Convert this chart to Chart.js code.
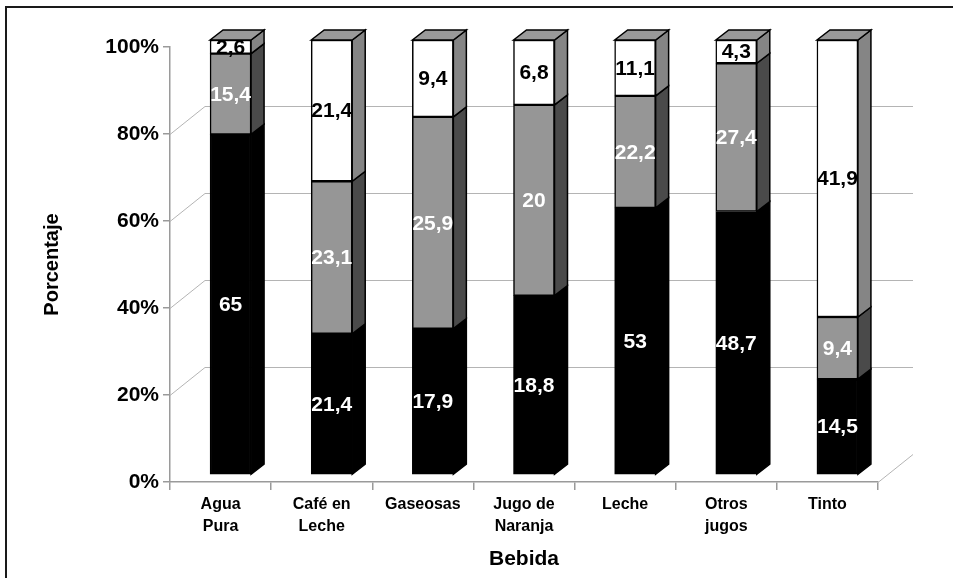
<!DOCTYPE html>
<html>
<head>
<meta charset="utf-8">
<script src="https://cdn.jsdelivr.net/npm/chart.js@4.4.1/dist/chart.umd.min.js"></script>
<style>
  html, body { margin: 0; padding: 0; background: #ffffff; }
  #wrap { width: 953px; height: 578px; }
</style>
</head>
<body>
<div id="wrap"><canvas id="c" width="953" height="578"></canvas></div>
<script>
// Beverages (x categories) and the three stacked series
const categories = [['Agua', 'Pura'], ['Café en', 'Leche'], ['Gaseosas'], ['Jugo de', 'Naranja'], ['Leche'], ['Otros', 'jugos'], ['Tinto']];
const serieNegra  = [65, 21.4, 17.9, 18.8, 53, 48.7, 14.5];
const serieGris   = [15.4, 23.1, 25.9, 20, 22.2, 27.4, 9.4];
const serieBlanca = [2.6, 21.4, 9.4, 6.8, 11.1, 4.3, 41.9];
const yTickValues = [0, 20, 40, 60, 80, 100];

// 100% stacking: each column is scaled to its own total
const totals = categories.map((_, i) => serieNegra[i] + serieGris[i] + serieBlanca[i]);
const toPct = arr => arr.map((v, i) => v / totals[i] * 100);

const FONT = "'Liberation Sans', Arial, sans-serif";
const BAR_DX = 13, BAR_DY = 10;     // depth of each 3D column
const SHIFT_X = 10, SHIFT_Y = -7;   // column plane sits behind the front axis
const WALL_DX = 35, WALL_DY = 28;   // back wall offset
const sideColors  = ['#000000', '#4a4a4a', '#858585'];
const labelColors = ['#ffffff', '#ffffff', '#000000'];
const rawSeries = [serieNegra, serieGris, serieBlanca];

const columns3d = {
  id: 'columns3d',
  beforeDatasetsDraw(chart) {
    const { ctx, chartArea: a, scales: { y } } = chart;
    ctx.save();
    ctx.strokeStyle = '#b4b4b4';
    ctx.lineWidth = 1;
    ctx.beginPath();
    y.ticks.forEach(t => {
      if (t.value <= 0 || t.value >= 100) return;
      const py = Math.round(y.getPixelForValue(t.value)) + 0.5;
      ctx.moveTo(a.left, py);
      ctx.lineTo(a.left + WALL_DX, py - WALL_DY);
      ctx.lineTo(a.right + WALL_DX, py - WALL_DY);
    });
    const pb = Math.round(a.bottom) + 0.5;
    ctx.moveTo(a.right, pb);
    ctx.lineTo(a.right + WALL_DX, pb - WALL_DY);
    ctx.stroke();
    ctx.restore();
    ctx.save();
    ctx.translate(SHIFT_X, SHIFT_Y);
  },
  afterDatasetsDraw(chart) {
    const { ctx } = chart;
    const n = chart.data.datasets.length;
    ctx.lineWidth = 1.5;
    ctx.strokeStyle = '#000000';
    ctx.lineJoin = 'miter';
    for (let d = 0; d < n; d++) {
      const meta = chart.getDatasetMeta(d);
      meta.data.forEach(bar => {
        const { x, y, base, width } = bar.getProps(['x', 'y', 'base', 'width'], true);
        const xl = x - width / 2, xr = x + width / 2;
        ctx.beginPath();
        ctx.moveTo(xr, y);
        ctx.lineTo(xr + BAR_DX, y - BAR_DY);
        ctx.lineTo(xr + BAR_DX, base - BAR_DY);
        ctx.lineTo(xr, base);
        ctx.closePath();
        ctx.fillStyle = sideColors[d];
        ctx.fill();
        ctx.stroke();
        if (d === n - 1) {
          ctx.beginPath();
          ctx.moveTo(xl, y);
          ctx.lineTo(xl + BAR_DX, y - BAR_DY);
          ctx.lineTo(xr + BAR_DX, y - BAR_DY);
          ctx.lineTo(xr, y);
          ctx.closePath();
          ctx.fillStyle = '#9a9a9a';
          ctx.fill();
          ctx.stroke();
        }
      });
    }
    // value labels in the middle of each segment
    ctx.font = 'bold 21px ' + FONT;
    ctx.textAlign = 'center';
    ctx.textBaseline = 'middle';
    for (let d = 0; d < n; d++) {
      const meta = chart.getDatasetMeta(d);
      meta.data.forEach((bar, i) => {
        const { x, y, base } = bar.getProps(['x', 'y', 'base'], true);
        ctx.fillStyle = labelColors[d];
        ctx.fillText(String(rawSeries[d][i]).replace('.', ','), x, (y + base) / 2 + 1);
      });
    }
    ctx.restore();
  },
  afterDraw(chart) {
    const { ctx } = chart;
    ctx.save();
    ctx.strokeStyle = '#1a1a1a';
    ctx.lineWidth = 2;
    ctx.strokeRect(6, 7, 1200, 1200);
    ctx.restore();
  }
};

const barStyle = { borderColor: '#000000', borderWidth: 1.5, borderSkipped: false, barThickness: 41, clip: false };

new Chart(document.getElementById('c'), {
  type: 'bar',
  data: {
    labels: categories,
    datasets: [
      { label: 'Negro', data: toPct(serieNegra), backgroundColor: '#000000', ...barStyle },
      { label: 'Gris', data: toPct(serieGris), backgroundColor: '#969696', ...barStyle },
      { label: 'Blanco', data: toPct(serieBlanca), backgroundColor: '#ffffff', ...barStyle }
    ]
  },
  options: {
    responsive: false,
    animation: false,
    layout: { padding: { left: 0, top: 47, right: 75, bottom: 0 } },
    plugins: { legend: { display: false }, tooltip: { enabled: false } },
    scales: {
      x: {
        stacked: true,
        offset: true,
        grid: { offset: true, drawOnChartArea: false, drawTicks: true, tickLength: 8, color: '#9a9a9a', lineWidth: 1.5 },
        border: { display: true, color: '#9a9a9a', width: 1.5 },
        ticks: { color: '#000000', font: { family: FONT, size: 16, weight: 'bold', lineHeight: 22 / 16 }, padding: 4, maxRotation: 0, autoSkip: false },
        title: { display: true, text: 'Bebida', color: '#000000', font: { family: FONT, size: 21, weight: 'bold' }, padding: { top: 0, bottom: 6 } },
        afterFit(scale) { scale.height = 96; }
      },
      y: {
        stacked: true,
        min: 0,
        max: 100,
        afterBuildTicks(scale) { scale.ticks = yTickValues.map(v => ({ value: v })); },
        grid: { drawOnChartArea: false, drawTicks: true, tickLength: 7, color: '#9a9a9a', lineWidth: 1.5 },
        border: { display: true, color: '#9a9a9a', width: 1.5 },
        ticks: { color: '#000000', font: { family: FONT, size: 21, weight: 'bold' }, padding: 4, callback: v => v + '%' },
        title: { display: true, text: 'Porcentaje', color: '#000000', font: { family: FONT, size: 20, weight: 'bold' }, padding: { top: 40, bottom: 0 } },
        afterFit(scale) { scale.width = 170; }
      }
    }
  },
  plugins: [columns3d]
});
</script>
</body>
</html>
